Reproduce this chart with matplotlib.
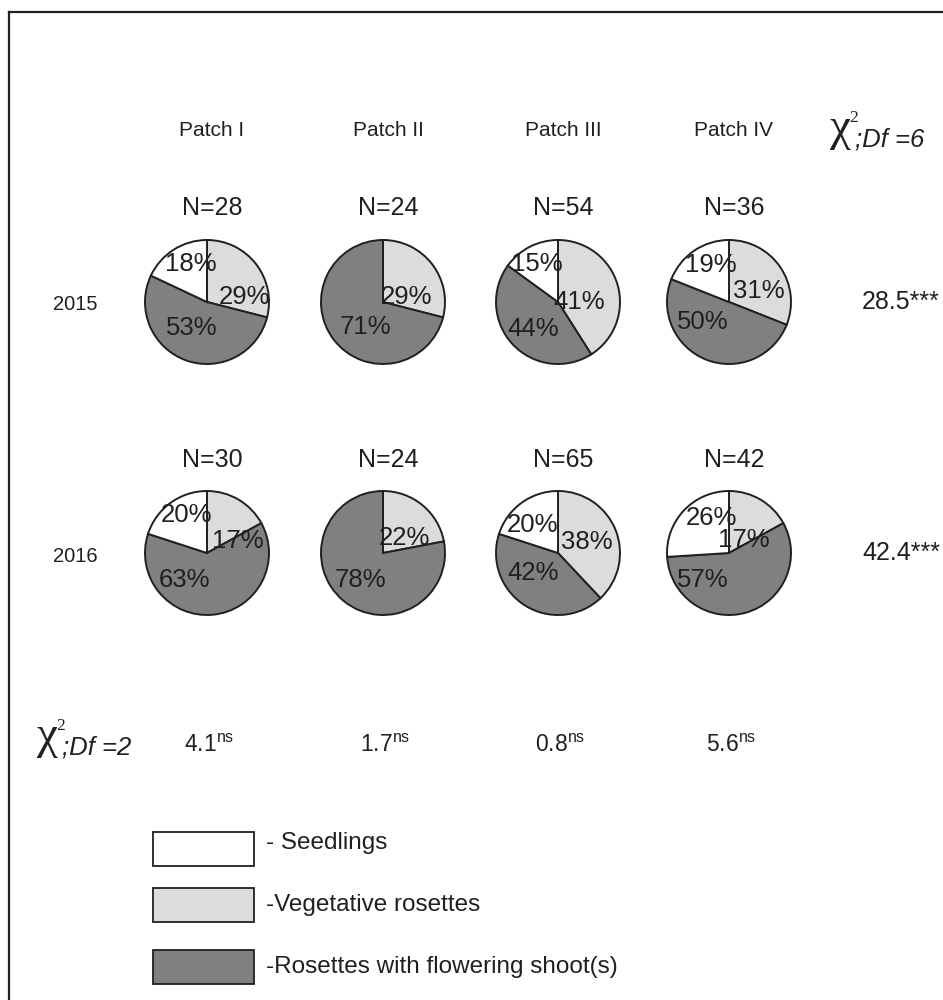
import matplotlib.pyplot as plt
from matplotlib.patches import Rectangle

plt.rcParams['font.family'] = ['Liberation Sans', 'DejaVu Sans']
plt.rcParams['mathtext.fontset'] = 'custom'
plt.rcParams['mathtext.rm'] = 'Liberation Sans'
plt.rcParams['mathtext.it'] = 'Liberation Sans:italic'

# Stage structure (%) per patch: vegetative rosettes, flowering rosettes, seedlings
patches = ['Patch I', 'Patch II', 'Patch III', 'Patch IV']
years = ['2015', '2016']
n_2015 = [28, 24, 54, 36]
n_2016 = [30, 24, 65, 42]
veg_2015 = [29, 29, 41, 31]
flow_2015 = [53, 71, 44, 50]
seed_2015 = [18, 0, 15, 19]
veg_2016 = [17, 22, 38, 17]
flow_2016 = [63, 78, 42, 57]
seed_2016 = [20, 0, 20, 26]
chi_years = ['28.5***', '42.4***']
chi_patches = ['4.1', '1.7', '0.8', '5.6']
legend_labels = ['- Seedlings', '-Vegetative rosettes', '-Rosettes with flowering shoot(s)']

c_seed, c_veg, c_flow = 'white', '#dcdcdc', '#808080'
edge = '#231f20'
txt = '#231f20'

fig = plt.figure(figsize=(9.43, 10), dpi=100)
ax = fig.add_axes([0, 0, 1, 1])
ax.set_xlim(0, 943)
ax.set_ylim(1000, 0)
ax.axis('off')

# frame (left and top edges only)
ax.plot([9, 9], [1000, 12], color=edge, lw=1.6, solid_capstyle='projecting')
ax.plot([9, 943], [12, 12], color=edge, lw=1.6, solid_capstyle='projecting')

cx = [207, 383, 558, 729]
cy = [302, 553]
r = 62

# label offsets from pie centre, per wedge (veg, flow, seed)
offsets = {
    0: [[(37, -5), (-15, 26), (-16, -38)],
        [(24, -5), (-18, 25), (0, 0)],
        [(21, 0), (-25, 27), (-21, -38)],
        [(30, -11), (-26, 20), (-18, -37)]],
    1: [[(31, -12), (-22, 27), (-20, -38)],
        [(21, -15), (-23, 27), (0, 0)],
        [(29, -11), (-25, 20), (-25, -28)],
        [(15, -13), (-26, 27), (-18, -35)]],
}

for yi, (veg, flow, seed) in enumerate([(veg_2015, flow_2015, seed_2015),
                                       (veg_2016, flow_2016, seed_2016)]):
    for pi in range(4):
        vals = [veg[pi], flow[pi], seed[pi]]
        cols = [c_veg, c_flow, c_seed]
        keep = [k for k, v in enumerate(vals) if v > 0]
        # y axis is inverted, so counterclockwise in data is clockwise on screen
        ax.pie([vals[k] for k in keep], colors=[cols[k] for k in keep],
               startangle=-90, counterclock=True, center=(cx[pi], cy[yi]),
               radius=r, frame=True,
               wedgeprops=dict(edgecolor=edge, linewidth=1.4))
        for k in keep:
            dx, dy = offsets[yi][pi][k]
            ax.text(cx[pi] + dx, cy[yi] + dy, f'{vals[k]}%', fontsize=18.5,
                    color=txt, ha='center', va='center')

ax.set_xlim(0, 943)
ax.set_ylim(1000, 0)
ax.set_aspect('auto')

for pi, name in enumerate(patches):
    ax.text(cx[pi] + 5, 131, name, fontsize=15, color=txt, ha='center', va='center')
    ax.text(cx[pi] + 5, 208, f'N={n_2015[pi]}', fontsize=18, color=txt,
            ha='center', va='center')
    ax.text(cx[pi] + 5, 460, f'N={n_2016[pi]}', fontsize=18, color=txt,
            ha='center', va='center')
    ax.text(cx[pi] + 2, 745, chi_patches[pi] + r'$^{\mathrm{ns}}$', fontsize=16.5,
            color=txt, ha='center', va='center')

for yi, yr in enumerate(years):
    ax.text(75, cy[yi] + 3, yr, fontsize=14.5, color=txt, ha='center', va='center')
    ax.text(901, cy[yi], chi_years[yi], fontsize=18, color=txt,
            ha='center', va='center')


def chi_label(x, y, df):
    ax.text(x, y, '\u03c7', fontsize=34, family='Liberation Serif', color=txt,
            ha='left', va='center')
    ax.text(x + 19, y - 11, '2', fontsize=12.5, family='Liberation Serif',
            color=txt, ha='left', va='center')
    ax.text(x + 25, y + 11, f';Df ={df}', fontsize=18.5, style='italic',
            color=txt, ha='left', va='center')


chi_label(830, 129, 6)
chi_label(37, 737, 2)

# legend boxes
box_y = [832, 888, 950]
text_y = [843, 905, 967]
for col, y0, ty, lab in zip([c_seed, c_veg, c_flow], box_y, text_y, legend_labels):
    ax.add_patch(Rectangle((153, y0), 101, 34, facecolor=col, edgecolor=edge,
                           lw=1.3))
    ax.text(266, ty, lab, fontsize=17.5, color=txt, ha='left', va='center')

fig.savefig('out.png', dpi=100)
